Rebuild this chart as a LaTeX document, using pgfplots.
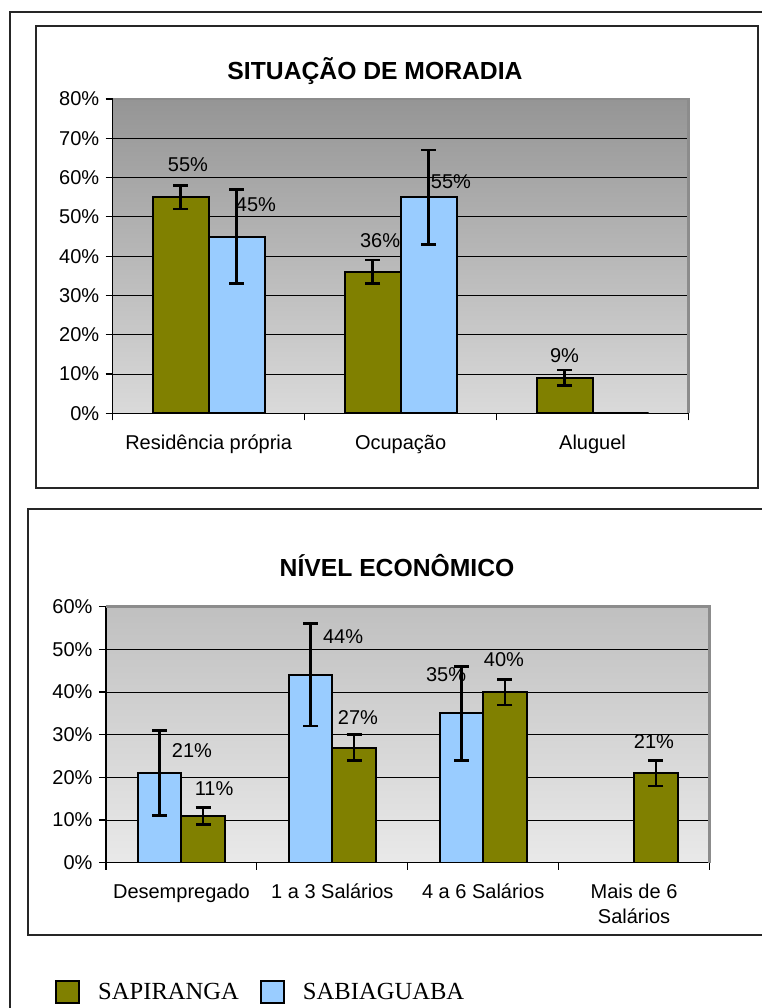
\documentclass[border=0pt]{standalone}
\usepackage{fontspec}
\setmainfont{Liberation Sans}
\newfontfamily\legendfont{Liberation Serif}
\usepackage{pgfplots}
\pgfplotsset{compat=1.18}
\definecolor{oliveC}{HTML}{808000}
\definecolor{skyC}{HTML}{99CCFF}
\definecolor{bgAtop}{HTML}{959595}
\definecolor{bgAbot}{HTML}{DADADA}
\definecolor{bgBtop}{HTML}{C0C0C0}
\definecolor{bgBbot}{HTML}{E9E9E9}
\tikzset{dlab/.style={font=\fontsize{20bp}{24bp}\selectfont, inner sep=0pt}}
\pgfplotsset{
  mybar/.style={
    scale only axis, ybar=0pt, ymin=0, xmin=-0.5,
    enlargelimits=false,
    axis lines*=left, axis line style={line width=1.5bp, black},
    ymajorgrids, grid style={line width=1bp, black},
    tick align=outside, major tick length=7bp,
    tick style={line width=1.2bp, black},
    ticklabel style={font=\fontsize{20bp}{25bp}\selectfont},
    yticklabel style={xshift=-3bp},
    /pgf/number format/assume math mode=true,
    yticklabel={\pgfmathprintnumber{\tick}\%},
    xticklabels={},
    extra x tick style={major tick length=0pt, tick label style={align=center, yshift=-18bp}},
    after end axis/.code={\draw[color=black!45, line width=2.5bp] (rel axis cs:0,1) -- (rel axis cs:1,1) -- (rel axis cs:1,0);},
  },
  barS/.style={draw=black, line width=2bp,
      error bars/.cd, y dir=both, y explicit,
      error bar style={line width=2.6bp, black},
      error mark options={rotate=90, mark size=7.5bp, line width=2.6bp, black}},
}
\begin{document}
\begin{tikzpicture}
\useasboundingbox (0,0) rectangle (762bp,1008bp);
% frames
\draw[line width=2bp, black!85] (10bp,-20bp) -- (10bp,996bp) -- (790bp,996bp);
\draw[line width=1.5bp, black!85] (36bp,520bp) rectangle (758bp,982bp);
\draw[line width=1.5bp, black!85] (28bp,73bp) rectangle (790bp,499bp);
% titles
\node[anchor=base, font=\bfseries\fontsize{24.7bp}{28bp}\selectfont, inner sep=0pt] at (375bp,928.7bp) {SITUAÇÃO DE MORADIA};
\node[anchor=base, font=\bfseries\fontsize{24.7bp}{28bp}\selectfont, inner sep=0pt] at (397bp,431bp) {NÍVEL ECONÔMICO};

\begin{axis}[mybar, at={(112.7bp,594.7bp)}, anchor=south west,
  width=575.8bp, height=314.3bp, xmax=2.5, ymax=80,
  ytick={0,10,...,80}, xtick={-0.5,0.5,1.5,2.5},
  extra x ticks={0,1,2},
  extra x tick labels={Residência própria, Ocupação, Aluguel},
  bar width=56bp,
  axis background/.style={shade, top color=bgAtop, bottom color=bgAbot},
  legend style={at={(-0.1002,-1.841)}, anchor=west, draw=none, fill=none,
    legend columns=2, inner sep=0pt,
    font=\legendfont\fontsize{24.6bp}{28bp}\selectfont,
    nodes={inner sep=0pt},
    /tikz/every odd column/.append style={column sep=18bp},
    /tikz/every even column/.append style={column sep=21bp}},
  legend image code/.code={\draw[#1, line width=2bp, draw=black] (0bp,-11bp) rectangle (23bp,11bp);},
]
\addplot[fill=oliveC, barS] coordinates {(0,55) +- (0,3) (1,36) +- (0,3) (2,9) +- (0,2)};
\addlegendentry{SAPIRANGA}
\addplot[fill=skyC, barS] coordinates {(0,45) +- (0,12) (1,55) +- (0,12) (2,0) +- (0,0)};
\addlegendentry{SABIAGUABA}
\node[dlab] at (axis cs:-0.108,63.2) {55\%};
\node[dlab] at (axis cs:0.2466,53.0) {45\%};
\node[dlab] at (axis cs:0.893,43.9) {36\%};
\node[dlab] at (axis cs:1.2626,58.9) {55\%};
\node[dlab] at (axis cs:1.854,14.7) {9\%};
\end{axis}

\begin{axis}[mybar, at={(106bp,145.3bp)}, anchor=south west,
  width=603.5bp, height=256bp, xmax=3.5, ymax=60,
  ytick={0,10,...,60}, xtick={-0.5,0.5,1.5,2.5,3.5},
  extra x ticks={0,1,2,3},
  extra x tick labels={Desempregado, 1 a 3 Salários, 4 a 6 Salários, {Mais de 6\\Salários}},
  bar width=43.5bp,
  axis background/.style={shade, top color=bgBtop, bottom color=bgBbot},
]
\addplot[fill=skyC, barS] coordinates {(0,21) +- (0,10) (1,44) +- (0,12) (2,35) +- (0,11)};
\addplot[fill=oliveC, barS] coordinates {(0,11) +- (0,2) (1,27) +- (0,3) (2,40) +- (0,3) (3,21) +- (0,3)};
\node[dlab] at (axis cs:0.070,26.25) {21\%};
\node[dlab] at (axis cs:0.216,17.3) {11\%};
\node[dlab] at (axis cs:1.071,53.1) {44\%};
\node[dlab] at (axis cs:1.170,33.9) {27\%};
\node[dlab] at (axis cs:1.754,44.2) {35\%};
\node[dlab] at (axis cs:2.138,47.5) {40\%};
\node[dlab] at (axis cs:3.132,28.3) {21\%};
\end{axis}
\end{tikzpicture}
\end{document}
